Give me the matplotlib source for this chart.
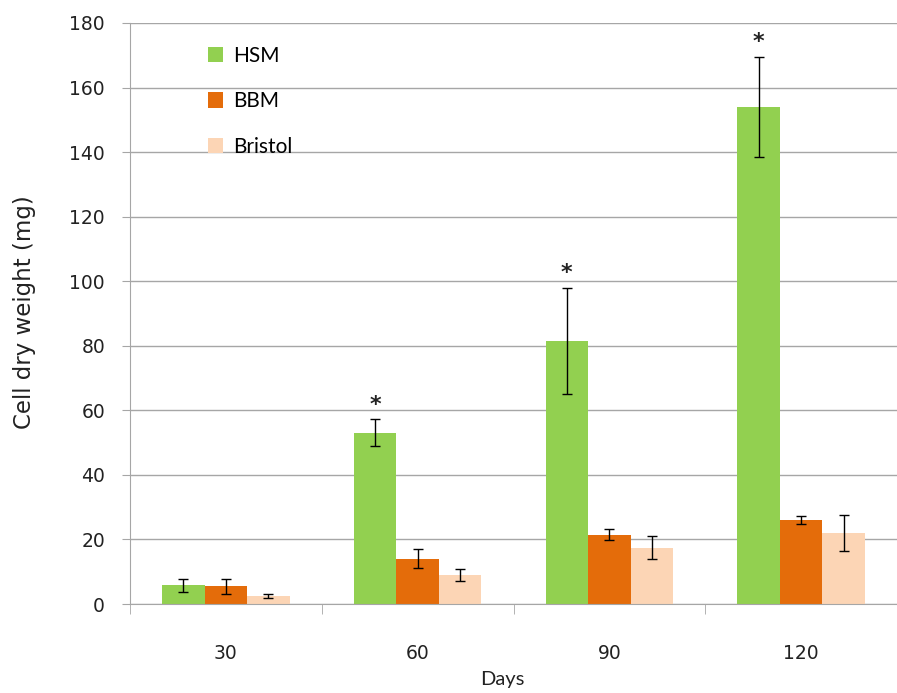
import numpy as np
import matplotlib
matplotlib.use('Agg')
import matplotlib.pyplot as plt

# dados
dias = ['30', '60', '90', '120']
hsm = [5.8, 53.0, 81.5, 154.0]
hsm_err = [2.0, 4.2, 16.5, 15.5]
bbm = [5.5, 14.0, 21.5, 26.0]
bbm_err = [2.3, 3.0, 1.7, 1.3]
bristol = [2.5, 9.0, 17.5, 22.0]
bristol_err = [0.7, 1.8, 3.5, 5.5]
significativo = [False, True, True, True]

cores = ['#92D050', '#E46C0A', '#FCD5B5']

fig = plt.figure(figsize=(8.97, 6.93), dpi=100)
ax = fig.add_axes([130/897, 1-604/693, 1-130/897, (604-23)/693])

x = np.arange(len(dias))
w = 0.222
series = [(hsm, hsm_err, 'HSM'), (bbm, bbm_err, 'BBM'), (bristol, bristol_err, 'Bristol')]
for i, (vals, errs, nome) in enumerate(series):
    ax.bar(x + (i-1)*w, vals, w, color=cores[i], label=nome, zorder=2)
    ax.errorbar(x + (i-1)*w, vals, yerr=errs, fmt='none', ecolor='black',
                elinewidth=1, capsize=3.5, capthick=1, zorder=3)

# asteriscos
for xi, v, e, s in zip(x, hsm, hsm_err, significativo):
    if s:
        ax.text(xi - w, v + e + 1.5, '*', ha='center', va='bottom',
                fontsize=16, fontweight='bold', color='#222222')

ax.set_ylim(0, 180)
ax.set_yticks(np.arange(0, 181, 20))
ax.set_xlim(-0.5, 3.46)
ax.grid(axis='y', color='#a6a6a6', linewidth=1, zorder=0)
ax.set_axisbelow(True)

ax.set_xticks(x)
ax.set_xticklabels(dias)
ax.set_xticks(np.arange(-0.5, 3.6, 1), minor=True)
ax.tick_params(axis='x', which='major', length=0, pad=29, labelsize=13.5, labelcolor='#222222')
ax.tick_params(axis='x', which='minor', length=7, color='#a6a6a6', direction='out')
ax.tick_params(axis='y', length=6, color='#a6a6a6', pad=12, labelsize=13.5, labelcolor='#222222')

for s in ['top', 'right']:
    ax.spines[s].set_visible(False)
ax.spines['left'].set_color('#a6a6a6')
ax.spines['bottom'].set_color('#a6a6a6')

fig.text(24/897, 1-312/693, 'Cell dry weight (mg)', rotation=90, ha='center', va='center',
         fontsize=16.5, color='#222222')
fig.text(502/897, 1-680/693, 'Days', ha='center', va='center', fontsize=14.5,
         family='Lato', color='#222222')

ax.legend(loc='upper left', bbox_to_anchor=(0.077, 0.993), frameon=False,
          labelspacing=1.22, handlelength=0.75, handleheight=0.75,
          handletextpad=0.45, prop={'family': 'Lato', 'size': 15})

fig.savefig('out.png', dpi=100)
